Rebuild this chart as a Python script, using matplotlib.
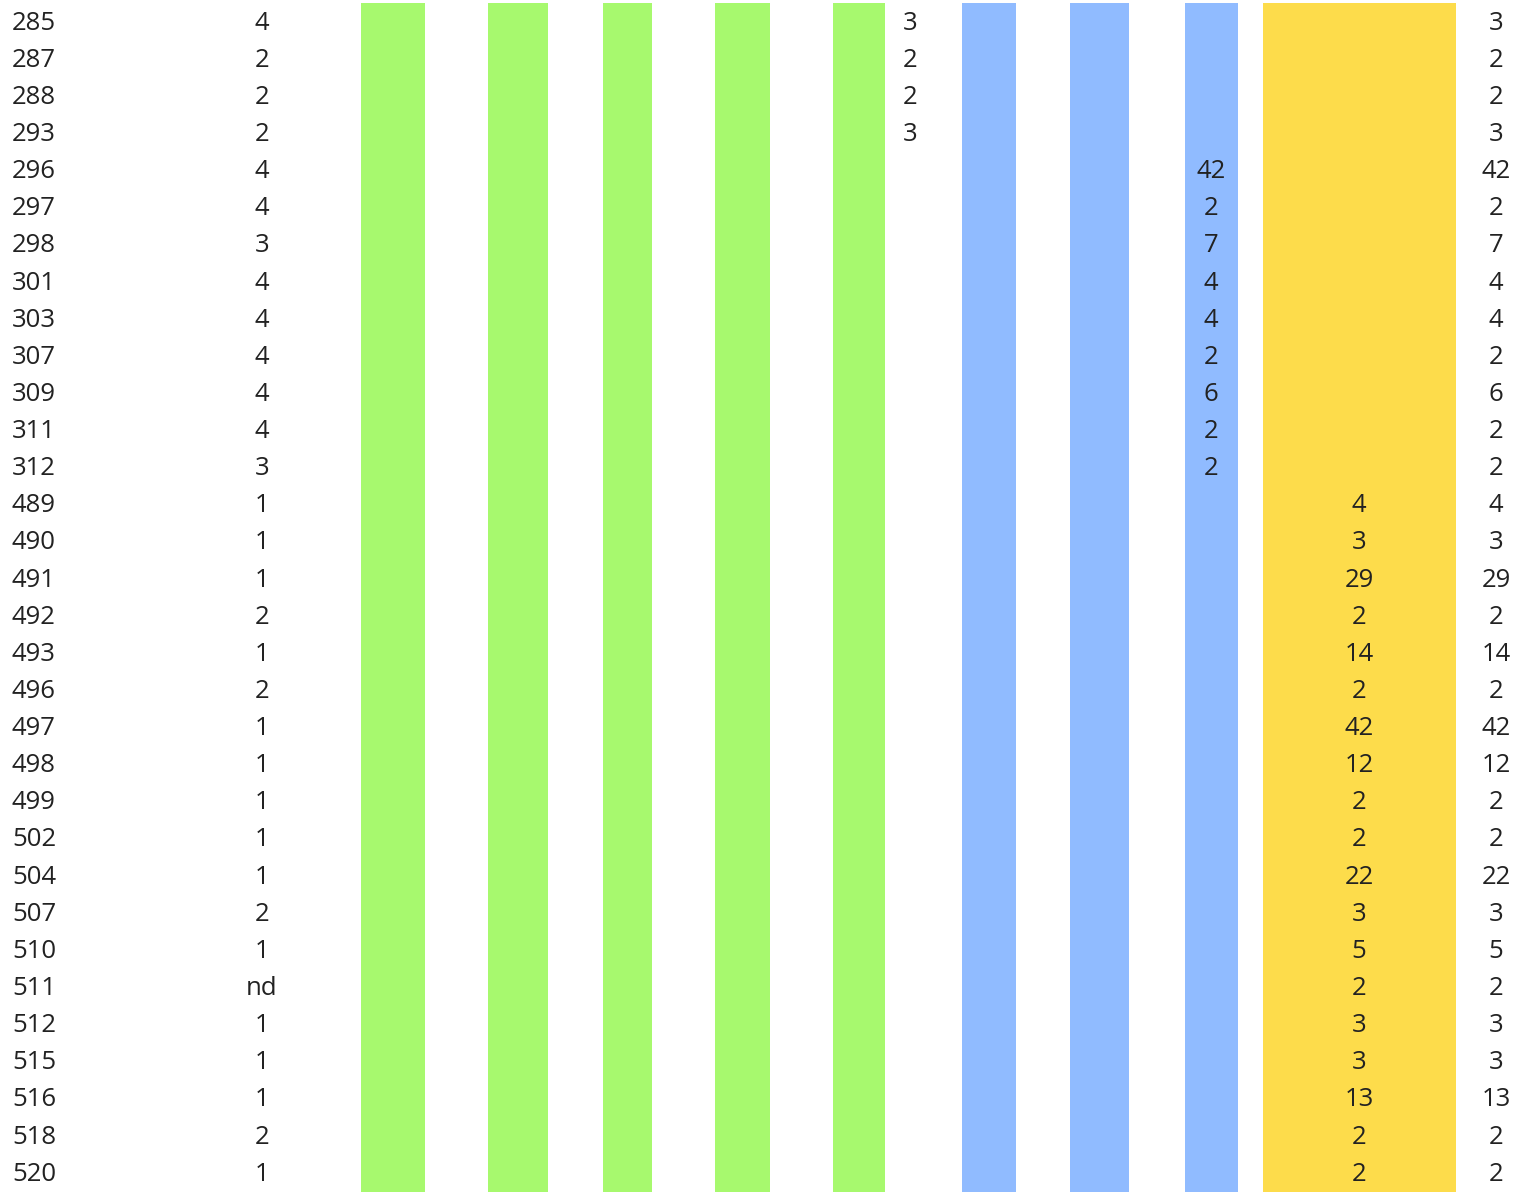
import matplotlib.pyplot as plt
import numpy as np

ids = [285, 287, 288, 293, 296, 297, 298, 301, 303, 307, 309, 311, 312,
       489, 490, 491, 492, 493, 496, 497, 498, 499, 502, 504, 507, 510,
       511, 512, 515, 516, 518, 520]
grp = ['4', '2', '2', '2', '4', '4', '3', '4', '4', '4', '4', '4', '3',
       '1', '1', '1', '2', '1', '2', '1', '1', '1', '1', '1', '2', '1',
       'nd', '1', '1', '1', '2', '1']
green_vals = [3, 2, 2, 3]                            # rows 0-3
blue_vals = [42, 2, 7, 4, 4, 2, 6, 2, 2]             # rows 4-12
yellow_vals = [4, 3, 29, 2, 14, 2, 42, 12, 2, 2, 22, 3, 5, 2, 3, 3,
               13, 2, 2]                             # rows 13-31
totals = green_vals + blue_vals + yellow_vals

n = len(ids)
rows = np.arange(n)

# band layout (pixel x positions, left/right)
green_bands = [(361, 425), (488, 548), (603, 652), (715, 770), (833, 885)]
blue_bands = [(962, 1016), (1070, 1129), (1185, 1238)]
yellow_bands = [(1263, 1456)]
GREEN, BLUE, YELLOW = '#a7f96e', '#90bbff', '#fddc4b'
TXT = '#222222'

plt.rcParams['font.family'] = ['Open Sans', 'DejaVu Sans']
fig = plt.figure(figsize=(15.17, 11.92), dpi=100)
ax = fig.add_axes([0, 0, 1, 1])
ax.set_xlim(0, 1517)
ax.set_ylim((1192 - 22) / 37.13, -22 / 37.13)
ax.axis('off')

for bands, col in [(green_bands, GREEN), (blue_bands, BLUE), (yellow_bands, YELLOW)]:
    for x0, x1 in bands:
        ax.bar(x0, n, width=x1 - x0, bottom=-0.5, align='edge', color=col, linewidth=0)

fs = 18.5
dy = 0.03
for i in rows:
    ax.text(12, i + dy, str(ids[i]), ha='left', va='center', fontsize=fs, color=TXT)
    ax.text(262, i + dy, grp[i], ha='center', va='center', fontsize=fs, color=TXT)
    ax.text(1496, i + dy, str(totals[i]), ha='center', va='center', fontsize=fs, color=TXT)

off = 0
for vals, xc in [(green_vals, 910), (blue_vals, 1211), (yellow_vals, 1359)]:
    for j, v in enumerate(vals):
        ax.text(xc, off + j + dy, str(v), ha='center', va='center', fontsize=fs, color=TXT)
    off += len(vals)

fig.savefig('out.png', dpi=100)
